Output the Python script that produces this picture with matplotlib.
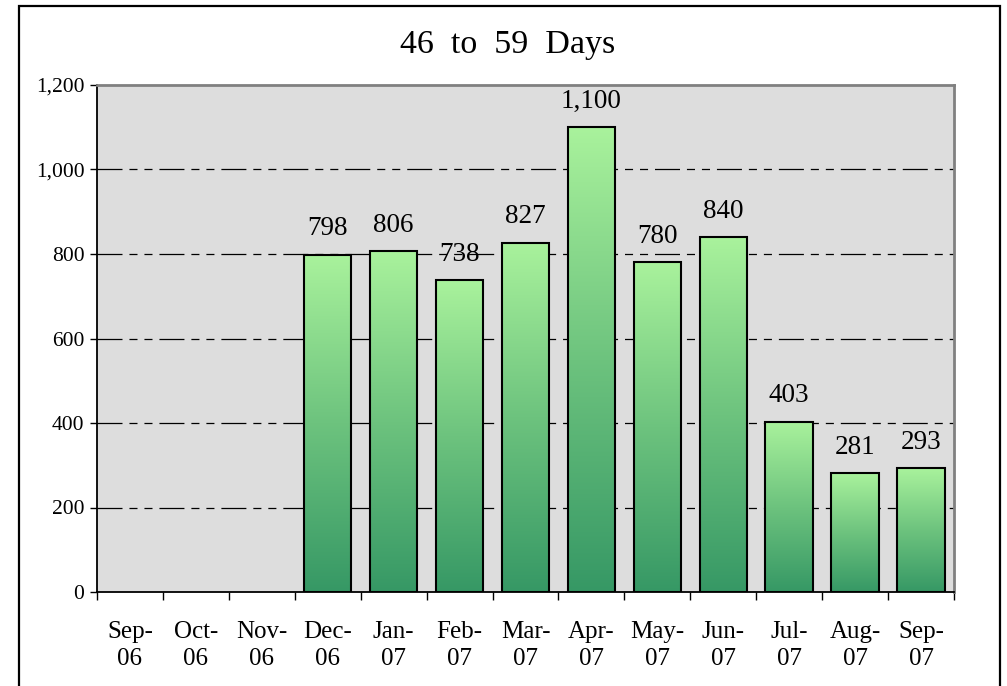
import numpy as np
import matplotlib
matplotlib.use("Agg")
import matplotlib.pyplot as plt
from matplotlib.colors import LinearSegmentedColormap
from matplotlib.patches import Rectangle
from matplotlib.ticker import FuncFormatter, FixedLocator

categories = ["Sep-\n06", "Oct-\n06", "Nov-\n06", "Dec-\n06", "Jan-\n07", "Feb-\n07",
              "Mar-\n07", "Apr-\n07", "May-\n07", "Jun-\n07", "Jul-\n07", "Aug-\n07", "Sep-\n07"]
values = [0, 0, 0, 798, 806, 738, 827, 1100, 780, 840, 403, 281, 293]
title = "46  to  59  Days"
yticks = [0, 200, 400, 600, 800, 1000, 1200]

plt.rcParams['font.family'] = ['Liberation Serif', 'DejaVu Serif']
plt.rcParams['lines.scale_dashes'] = False

fig = plt.figure(figsize=(10.07, 6.86), dpi=100)
ax = fig.add_axes([97/1007, 94/686, 857/1007, 507/686])
ax.set_facecolor("#DDDDDD")

# outer border
fig.patches.append(Rectangle((19/1007, -0.05), 981/1007, (680/686) + 0.05, transform=fig.transFigure,
                             fill=False, edgecolor="black", linewidth=1.6, clip_on=False))

cmap = LinearSegmentedColormap.from_list("g", ["#369865", "#6DC37E", "#A9F29C"])
grad = np.linspace(0, 1, 256).reshape(-1, 1)

x = np.arange(len(categories))
width = 0.72
for xi, v in zip(x, values):
    if v <= 0:
        continue
    ax.imshow(grad, cmap=cmap, origin="lower", aspect="auto",
              extent=(xi - width/2, xi + width/2, 0, v), zorder=2, interpolation="bilinear")
    ax.add_patch(Rectangle((xi - width/2, 0), width, v, fill=False, edgecolor="black",
                           linewidth=1.5, zorder=3))
    ax.annotate(f"{v:,}", (xi, v), xytext=(0, 14), textcoords="offset points",
                ha="center", va="baseline", fontsize=19.5, zorder=4)

ax.set_xlim(-0.5, len(categories) - 0.5)
ax.set_ylim(0, 1200)

ax.set_yticks(yticks)
ax.yaxis.set_major_formatter(FuncFormatter(lambda v, p: f"{int(v):,}"))
ax.tick_params(axis="y", direction="out", length=5, width=1, labelsize=15.5, pad=4)

ax.set_xticks(x)
ax.set_xticklabels(categories, fontsize=18, linespacing=1.26)
ax.tick_params(axis="x", which="major", length=0, pad=21)
ax.xaxis.set_minor_locator(FixedLocator(np.arange(-0.5, len(categories), 1)))
ax.tick_params(axis="x", which="minor", direction="out", length=6, width=1)

for yv in yticks[1:-1]:
    ax.axhline(yv, color="black", linewidth=0.9, dashes=(18, 5, 5.8, 5, 5.8, 5), zorder=1)

for s in ["left", "bottom"]:
    ax.spines[s].set_color("black")
    ax.spines[s].set_linewidth(1.3)
for s in ["top", "right"]:
    ax.spines[s].set_color("#808080")
    ax.spines[s].set_linewidth(2)

fig.text(508/1007, 1 - 45/686, title, ha="center", va="center", fontsize=24.5)

fig.savefig("out.png", dpi=100)
